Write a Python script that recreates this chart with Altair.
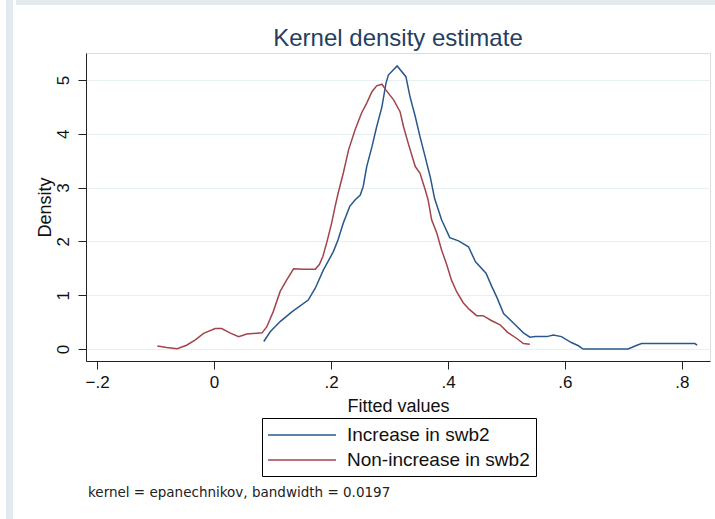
import altair as alt
import pandas as pd

# Kernel density curves of fitted values, by group
series_names = ["Increase in swb2", "Non-increase in swb2"]
series_colors = ["#28588a", "#a3434b"]

inc_x = [0.085, 0.096, 0.113, 0.133, 0.161, 0.173, 0.187, 0.198, 0.204, 0.212,
         0.221, 0.232, 0.241, 0.250, 0.255, 0.261, 0.270, 0.278, 0.287, 0.294,
         0.298, 0.313, 0.328, 0.335, 0.344, 0.352, 0.361, 0.370, 0.377, 0.389,
         0.403, 0.418, 0.435, 0.447, 0.465, 0.475, 0.484, 0.495, 0.514, 0.529,
         0.540, 0.549, 0.569, 0.580, 0.594, 0.611, 0.623, 0.631, 0.708, 0.723,
         0.731, 0.822, 0.826]
inc_y = [0.14, 0.32, 0.51, 0.69, 0.91, 1.13, 1.47, 1.69, 1.81, 2.03,
         2.34, 2.65, 2.77, 2.86, 3.02, 3.39, 3.76, 4.13, 4.50, 4.94,
         5.09, 5.26, 5.06, 4.69, 4.32, 3.95, 3.57, 3.18, 2.80, 2.40,
         2.07, 2.01, 1.90, 1.62, 1.41, 1.16, 0.95, 0.66, 0.46, 0.30,
         0.22, 0.23, 0.23, 0.26, 0.23, 0.12, 0.06, 0.00, 0.00, 0.07,
         0.10, 0.10, 0.07]

non_x = [-0.097, -0.081, -0.063, -0.047, -0.032, -0.018, 0.002, 0.013, 0.027, 0.042,
         0.056, 0.082, 0.090, 0.101, 0.113, 0.124, 0.136, 0.153, 0.173, 0.180,
         0.186, 0.193, 0.201, 0.207, 0.212, 0.221, 0.230, 0.241, 0.252, 0.261,
         0.270, 0.278, 0.287, 0.294, 0.307, 0.318, 0.324, 0.332, 0.344, 0.352,
         0.361, 0.366, 0.372, 0.381, 0.389, 0.398, 0.406, 0.415, 0.426, 0.436,
         0.449, 0.460, 0.474, 0.489, 0.502, 0.517, 0.529, 0.540]
non_y = [0.056, 0.030, 0.006, 0.07, 0.17, 0.29, 0.38, 0.38, 0.30, 0.23,
         0.28, 0.30, 0.41, 0.69, 1.07, 1.28, 1.49, 1.48, 1.48, 1.57,
         1.72, 1.99, 2.34, 2.65, 2.89, 3.27, 3.70, 4.07, 4.38, 4.57,
         4.78, 4.89, 4.92, 4.81, 4.63, 4.41, 4.13, 3.82, 3.39, 3.27,
         2.96, 2.77, 2.40, 2.15, 1.84, 1.56, 1.28, 1.06, 0.86, 0.74,
         0.62, 0.62, 0.53, 0.45, 0.31, 0.20, 0.10, 0.09]

x_ticks = [-0.2, 0, 0.2, 0.4, 0.6, 0.8]
y_ticks = [0, 1, 2, 3, 4, 5]
title_text = "Kernel density estimate"
note_text = "kernel = epanechnikov, bandwidth = 0.0197"

FONT = "Liberation Sans"
FRAME = "#e3eaed"

rows = []
for name, xs, ys in [(series_names[0], inc_x, inc_y), (series_names[1], non_x, non_y)]:
    for i, (xv, yv) in enumerate(zip(xs, ys)):
        rows.append({"group": name, "fitted": xv, "density": yv, "idx": i})
df = pd.DataFrame(rows)
one = pd.DataFrame({"note": [note_text], "title": [title_text]})

x_enc = alt.X(
    "fitted:Q",
    scale=alt.Scale(domain=[-0.219, 0.848], nice=False, zero=False),
    axis=alt.Axis(
        title="Fitted values",
        values=x_ticks,
        labelExpr="datum.value == 0 ? '0' : replace(format(datum.value, '.1f'), '0.', '.')",
        grid=False,
        domainColor="#222222",
        tickColor="#222222",
        tickSize=8,
        labelPadding=5,
        labelFontSize=17,
        labelFont=FONT,
        labelColor="#111111",
        titleFontSize=18,
        titleFont=FONT,
        titleFontWeight="normal",
        titleColor="#111111",
        titlePadding=7,
    ),
)

y_enc = alt.Y(
    "density:Q",
    scale=alt.Scale(domain=[-0.223, 5.5], nice=False, zero=False),
    axis=alt.Axis(
        title="Density",
        values=y_ticks,
        labelAngle=270,
        grid=True,
        gridColor="#e6eff2",
        gridWidth=1.2,
        domainColor="#222222",
        tickColor="#222222",
        tickSize=8,
        labelPadding=6,
        labelFontSize=17,
        labelFont=FONT,
        labelColor="#111111",
        titleFontSize=18,
        titleFont=FONT,
        titleFontWeight="normal",
        titleColor="#111111",
        titlePadding=0,
    ),
)

lines = alt.Chart(df).mark_line(strokeWidth=1.5).encode(
    x=x_enc,
    y=y_enc,
    order="idx:Q",
    color=alt.Color(
        "group:N",
        scale=alt.Scale(domain=series_names, range=series_colors),
        legend=alt.Legend(
            title=None,
            orient="none",
            legendX=176,
            legendY=365,
            direction="vertical",
            symbolType="M-1.1,0L5.7,0",
            symbolSize=400,
            symbolStrokeWidth=1.5,
            symbolFillColor="transparent",
            labelFontSize=19,
            labelFont=FONT,
            labelColor="#111111",
            labelOffset=57,
            labelLimit=0,
            strokeColor="#000000",
            padding=6,
            rowPadding=4,
        ),
    ),
)

# chart heading, centred over the plot area
heading = alt.Chart(one).mark_text(
    align="center", baseline="alphabetic", fontSize=24, font=FONT, color="#24405f"
).encode(
    x=alt.value(312),
    y=alt.value(-7),
    text="title:N",
)

note = alt.Chart(one).mark_text(
    align="left", baseline="alphabetic", fontSize=13.5, font="DejaVu Sans", color="#222222"
).encode(
    x=alt.value(2),
    y=alt.value(444),
    text="note:N",
)

# light window frame along the top and left edges
frame_top = alt.Chart(one).mark_rect(color=FRAME).encode(
    x=alt.value(-70), x2=alt.value(629), y=alt.value(-53), y2=alt.value(-48)
)
frame_left = alt.Chart(one).mark_rect(color=FRAME).encode(
    x=alt.value(-80), x2=alt.value(-73), y=alt.value(-53), y2=alt.value(466)
)

chart = alt.layer(frame_top, frame_left, lines, heading, note).properties(
    width=624,
    height=308,
    autosize=alt.AutoSizeParams(type="none"),
    padding={"left": 86, "top": 53, "right": 5, "bottom": 158},
).configure_view(stroke=None).configure(background="#ffffff")

chart.save("out.html", embed_options={"renderer": "svg", "actions": False})
